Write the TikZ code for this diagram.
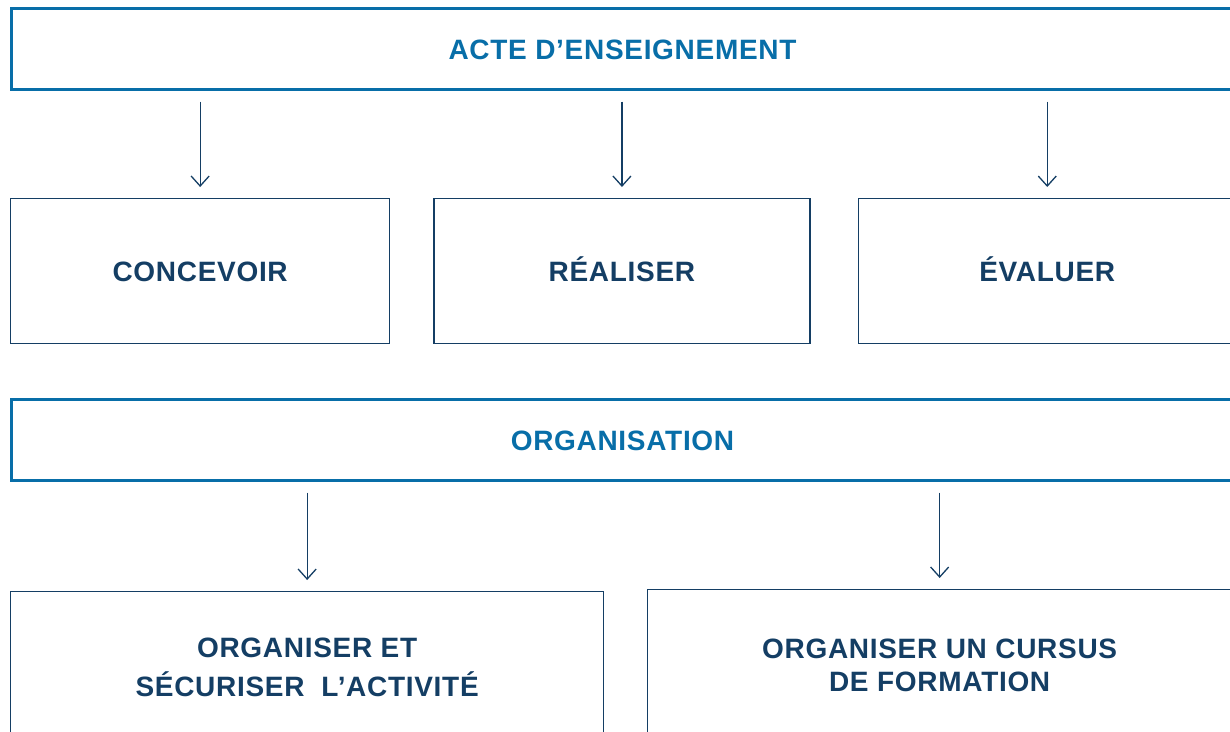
\documentclass[tikz,border=0pt]{standalone}
\usepackage{fontspec}
\setmainfont{Liberation Sans}
\newfontfamily\boxfont[LetterSpace=2.5]{Liberation Sans}
\usetikzlibrary{arrows.meta, positioning}
\definecolor{actblue}{RGB}{8,110,168}
\definecolor{navy}{RGB}{20,62,100}

\begin{document}
\begin{tikzpicture}[
    x=1pt, y=-1pt,
    head_box/.style={draw=actblue, line width=3pt, minimum width=1222pt, minimum height=81pt, anchor=north west, inner sep=0pt, text=actblue, font=\boxfont\bfseries\fontsize{28}{39}\selectfont},
    task_box/.style={draw=navy, line width=1.3pt, minimum height=145pt, inner sep=0pt, text=navy, align=center, font=\boxfont\bfseries\fontsize{28}{39}\selectfont},
    arrow/.style={-{Straight Barb[length=10pt, width=18pt]}, line width=1.3pt, draw=navy, shorten <=10.5pt, shorten >=11pt}
]
    \path[use as bounding box, clip] (0,0) rectangle (1230,731);

    % Acte d'enseignement and its three tasks
    \node[head_box, text height=20pt, text depth=0pt] (acte_box) at (10,7) {ACTE D’ENSEIGNEMENT};

    \node[task_box, minimum width=379pt, anchor=north west, text height=20pt, text depth=0pt] (concevoir_box) at (10,198) {CONCEVOIR};
    \node[task_box, minimum width=376pt, right=43pt of concevoir_box, text height=20pt, text depth=0pt] (realiser_box) {RÉALISER};
    \node[task_box, minimum width=378pt, right=47pt of realiser_box, text height=20pt, text depth=0pt] (evaluer_box) {ÉVALUER};

    \draw[arrow] (acte_box.south -| concevoir_box.north) -- (concevoir_box.north);
    \draw[arrow] (acte_box.south -| realiser_box.north) -- (realiser_box.north);
    \draw[arrow] (acte_box.south -| evaluer_box.north) -- (evaluer_box.north);

    % Organisation and its two tasks
    \node[head_box, text height=20pt, text depth=0pt] (orga_box) at (10,398) {ORGANISATION};

    \node[task_box, minimum width=593pt, minimum height=152pt, anchor=north west] (activite_box) at (10,591) {ORGANISER ET\\SÉCURISER \ L’ACTIVITÉ};
    \node[task_box, minimum width=584pt, minimum height=152pt, anchor=north west, font=\boxfont\bfseries\fontsize{28}{33}\selectfont] (cursus_box) at (647,589) {ORGANISER UN CURSUS\\DE FORMATION};

    \draw[arrow] (orga_box.south -| activite_box.north) -- (activite_box.north);
    \draw[arrow] (orga_box.south -| cursus_box.north) -- (cursus_box.north);

\end{tikzpicture}
\end{document}
